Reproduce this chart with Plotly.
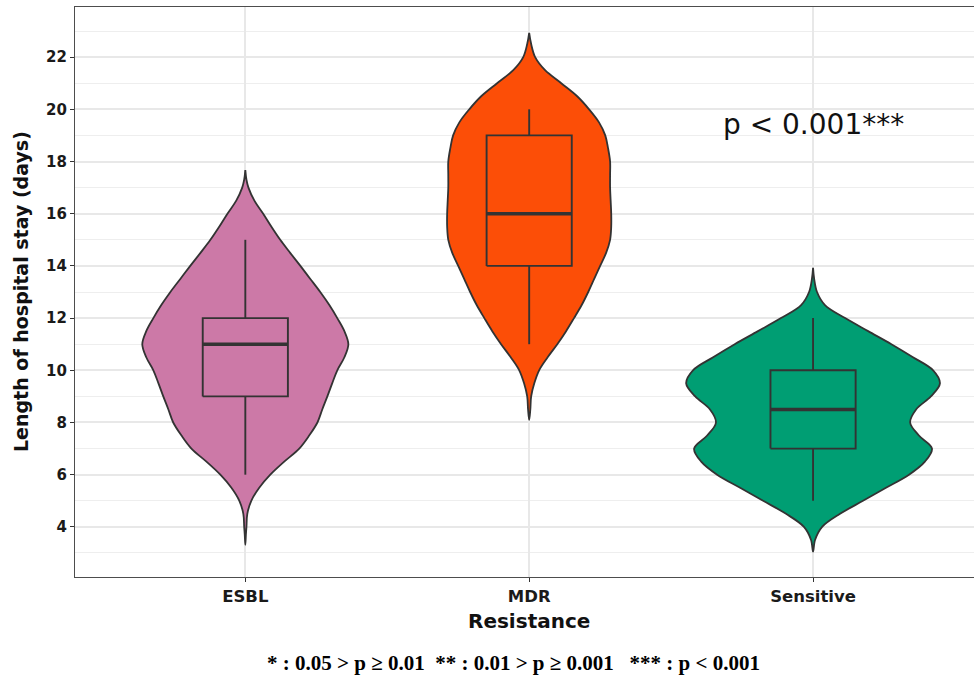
import plotly.graph_objects as go

# ---- data ----
categories = ["ESBL", "MDR", "Sensitive"]
colors = ["#CC79A7", "#FC4E07", "#009E73"]

# box statistics (days)
q1 = [9, 14, 7]
median = [11, 16, 8.5]
q3 = [12, 19, 10]
lower_whisker = [6, 11, 5]
upper_whisker = [15, 20, 12]

# violin profiles: y levels (days) and half-widths (x units)
esbl_y = [3.31, 3.7, 4.0, 4.5, 5.0, 5.5, 6.0, 6.5, 7.0, 7.5, 8.0, 8.5, 9.0, 9.5, 10.0, 10.5,
          11.0, 11.5, 12.0, 12.5, 13.0, 13.5, 14.0, 14.5, 15.0, 15.5, 16.0, 16.5, 17.0, 17.3, 17.67]
esbl_w = [0, .002, .004, .007, .021, .049, .088, .137, .190, .225, .254, .271, .289, .306, .324, .349,
          .363, .349, .324, .296, .264, .229, .194, .158, .123, .092, .063, .032, .011, .004, 0]

mdr_y = [8.1, 8.5, 9.0, 9.5, 10.0, 10.5, 11.0, 11.5, 12.0, 12.5, 13.0, 13.5, 14.0, 14.5, 15.0, 15.5,
         16.0, 16.5, 17.0, 17.5, 18.0, 18.5, 19.0, 19.5, 20.0, 20.5, 21.0, 21.5, 22.0, 22.5, 22.93]
mdr_w = [0, .004, .007, .018, .035, .065, .099, .130, .158, .185, .208, .229, .250, .271, .285, .289,
         .289, .287, .285, .285, .285, .278, .268, .246, .211, .169, .113, .056, .021, .007, 0]

sens_y = [3.05, 3.5, 4.0, 4.5, 5.0, 5.5, 6.0, 6.5, 7.0, 7.5, 8.0, 8.5, 9.0, 9.5, 10.0, 10.5,
          11.0, 11.5, 12.0, 12.5, 13.0, 13.5, 13.93]
sens_w = [0, .007, .032, .095, .176, .257, .338, .394, .419, .373, .342, .363, .415, .447, .423, .352,
          .276, .194, .113, .042, .014, .004, 0]

profiles = [(esbl_y, esbl_w), (mdr_y, mdr_w), (sens_y, sens_w)]

y_ticks = [4, 6, 8, 10, 12, 14, 16, 18, 20, 22]
p_text = "p < 0.001***"
caption = ("* : 0.05 > p \u2265 0.01\u00a0\u00a0** : 0.01 > p \u2265 0.001\u00a0\u00a0\u00a0*** : p < 0.001")

OUTLINE = "#333333"
BOX_HALF = 0.15
fig = go.Figure()

# violins
for i, ((ys, ws), col) in enumerate(zip(profiles, colors)):
    pos = i + 1
    xs = [pos + w for w in ws] + [pos - w for w in reversed(ws)]
    yy = list(ys) + list(reversed(ys))
    fig.add_trace(go.Scatter(
        x=xs, y=yy, mode="lines", fill="toself", fillcolor=col,
        line=dict(color=OUTLINE, width=1.8, shape="spline", smoothing=1.0),
        hoverinfo="skip", showlegend=False))

# boxplots (drawn from the box statistics)
for i, col in enumerate(colors):
    pos = i + 1
    fig.add_trace(go.Scatter(
        x=[pos, pos, None, pos, pos],
        y=[q3[i], upper_whisker[i], None, q1[i], lower_whisker[i]],
        mode="lines", line=dict(color=OUTLINE, width=1.9),
        hoverinfo="skip", showlegend=False))
    fig.add_trace(go.Scatter(
        x=[pos - BOX_HALF, pos + BOX_HALF, pos + BOX_HALF, pos - BOX_HALF, pos - BOX_HALF],
        y=[q1[i], q1[i], q3[i], q3[i], q1[i]],
        mode="lines", fill="toself", fillcolor=col,
        line=dict(color=OUTLINE, width=1.9), hoverinfo="skip", showlegend=False))
    fig.add_trace(go.Scatter(
        x=[pos - BOX_HALF, pos + BOX_HALF], y=[median[i], median[i]], mode="lines",
        line=dict(color=OUTLINE, width=3.4), hoverinfo="skip", showlegend=False))

AX_FONT = "DejaVu Sans"
fig.update_layout(
    width=974, height=677,
    margin=dict(l=75, r=0, t=7, b=100),
    plot_bgcolor="white", paper_bgcolor="white",
    showlegend=False,
    xaxis=dict(
        range=[0.4, 3.567], tickmode="array", tickvals=[1, 2, 3], ticktext=categories,
        showgrid=True, gridcolor="#E8E8E8", gridwidth=1.6, zeroline=False,
        showline=True, linecolor="#4D4D4D", linewidth=1.3, mirror=True,
        ticks="outside", ticklen=4, tickwidth=1, tickcolor="#333333",
        tickfont=dict(family=AX_FONT, size=16.5, color="#1a1a1a", weight="bold")),
    yaxis=dict(
        range=[2.08, 23.92], tickmode="array", tickvals=y_ticks,
        showgrid=True, gridcolor="#E8E8E8", gridwidth=1.6, zeroline=False,
        minor=dict(dtick=1, tick0=0, showgrid=True, gridcolor="#EEEEEE", gridwidth=1.1),
        showline=True, linecolor="#4D4D4D", linewidth=1.3, mirror=False,
        ticks="outside", ticklen=4, tickwidth=1, tickcolor="#333333",
        tickfont=dict(family=AX_FONT, size=15, color="#1a1a1a", weight="bold")),
)

annotations = [
    dict(text=p_text, x=3, y=19.4, xref="x", yref="y", showarrow=False,
         font=dict(family=AX_FONT, size=28, color="#111111")),
    dict(text="Length of hospital stay (days)", xref="paper", yref="paper", x=0, y=0.5,
         xshift=-54, textangle=-90, showarrow=False, xanchor="center", yanchor="middle",
         font=dict(family=AX_FONT, size=19, color="#111111", weight="bold")),
    dict(text="Resistance", xref="x", yref="paper", x=2, y=0, yshift=-44,
         showarrow=False, xanchor="center", yanchor="middle",
         font=dict(family=AX_FONT, size=20, color="#111111", weight="bold")),
    dict(text=caption, xref="paper", yref="paper", x=(513 - 75) / 899, y=0, yshift=-86,
         showarrow=False, xanchor="center", yanchor="middle",
         font=dict(family="Liberation Serif", size=21, color="#000000", weight="bold")),
]
fig.update_layout(annotations=annotations)

fig.write_html("out.html", config={"displayModeBar": False},
               post_script="document.body.style.margin='0';")
